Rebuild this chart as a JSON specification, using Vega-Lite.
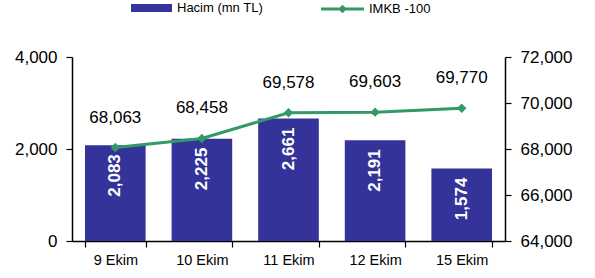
{
  "$schema": "https://vega.github.io/schema/vega-lite/v6.json",
  "width": 433,
  "height": 184,
  "autosize": {"type": "none"},
  "padding": {"left": 72, "top": 57, "right": 90, "bottom": 37},
  "data": {"values": [
    {"day": "9 Ekim", "hacim": 2083, "imkb": 68063},
    {"day": "10 Ekim", "hacim": 2225, "imkb": 68458},
    {"day": "11 Ekim", "hacim": 2661, "imkb": 69578},
    {"day": "12 Ekim", "hacim": 2191, "imkb": 69603},
    {"day": "15 Ekim", "hacim": 1574, "imkb": 69770}
  ]},
  "encoding": {
    "x": {
      "field": "day", "type": "nominal", "sort": null,
      "scale": {"paddingInner": 0.3, "paddingOuter": 0.15},
      "axis": {"title": null, "labelAngle": 0, "tickBand": "extent", "tickSize": 6, "labelPadding": 6,
               "labelFontSize": 14.5, "domainColor": "#000", "domainWidth": 1.5, "tickColor": "#000", "tickWidth": 1.2}
    }
  },
  "layer": [
    {
      "encoding": {
        "y": {"field": "hacim", "type": "quantitative",
              "scale": {"domain": [0, 4000], "nice": false},
              "axis": {"title": null, "orient": "left", "values": [0, 2000, 4000], "format": ",.0f", "grid": false,
                       "tickSize": 6, "labelPadding": 9, "labelFontSize": 17,
                       "domainColor": "#000", "domainWidth": 1.5, "tickColor": "#000", "tickWidth": 1.2}}
      },
      "layer": [
        {
          "mark": {"type": "bar"},
          "encoding": {
            "fill": {"datum": "Hacim (mn TL)",
                     "scale": {"range": ["#333399"]},
                     "legend": {"orient": "none", "legendX": 59, "legendY": -69.5, "padding": 0, "title": null,
                                "symbolType": "M-1,-0.2L1,-0.2L1,0.2L-1,0.2Z", "symbolSize": 1681,
                                "symbolStrokeWidth": 0, "labelOffset": 5, "labelFontSize": 13, "labelColor": "#000"}}
          }
        },
        {
          "mark": {"type": "text", "angle": 270, "align": "right", "baseline": "middle", "dx": -9,
                   "color": "#ffffff", "fontWeight": "bold", "fontSize": 17},
          "encoding": {"text": {"field": "hacim", "type": "quantitative", "format": ",.0f"}}
        }
      ]
    },
    {
      "encoding": {
        "y": {"field": "imkb", "type": "quantitative",
              "scale": {"domain": [64000, 72000], "nice": false, "zero": false},
              "axis": {"title": null, "orient": "right", "values": [64000, 66000, 68000, 70000, 72000], "format": ",.0f", "grid": false,
                       "tickSize": 6, "labelPadding": 9, "labelFontSize": 17,
                       "domainColor": "#000", "domainWidth": 1.5, "tickColor": "#000", "tickWidth": 1.2}}
      },
      "layer": [
        {
          "mark": {"type": "line", "strokeWidth": 3},
          "encoding": {
            "stroke": {"datum": "IMKB -100",
                       "scale": {"range": ["#339966"]},
                       "legend": {"orient": "none", "legendX": 249, "legendY": -69.5, "padding": 0, "title": null,
                                  "symbolType": "M-1,-0.07L1,-0.07L1,0.07L-1,0.07Z M0,-0.2L0.2,0L0,0.2L-0.2,0Z",
                                  "symbolSize": 1849, "symbolFillColor": "#339966", "symbolStrokeWidth": 0,
                                  "labelOffset": 5, "labelFontSize": 13, "labelColor": "#000",
                                  "symbolStrokeColor": "#339966"}}
          }
        },
        {
          "mark": {"type": "point", "shape": "diamond", "filled": true, "size": 90, "color": "#339966", "opacity": 1}
        },
        {
          "mark": {"type": "text", "baseline": "middle", "dy": -30, "fontSize": 17, "color": "#000"},
          "encoding": {"text": {"field": "imkb", "type": "quantitative", "format": ",.0f"}}
        }
      ]
    }
  ],
  "resolve": {"scale": {"y": "independent"}},
  "config": {
    "view": {"stroke": null},
    "font": "Liberation Sans",
    "axis": {"labelFont": "Liberation Sans", "labelColor": "#000"},
    "legend": {"labelFont": "Liberation Sans"},
    "text": {"font": "Liberation Sans"}
  }
}
